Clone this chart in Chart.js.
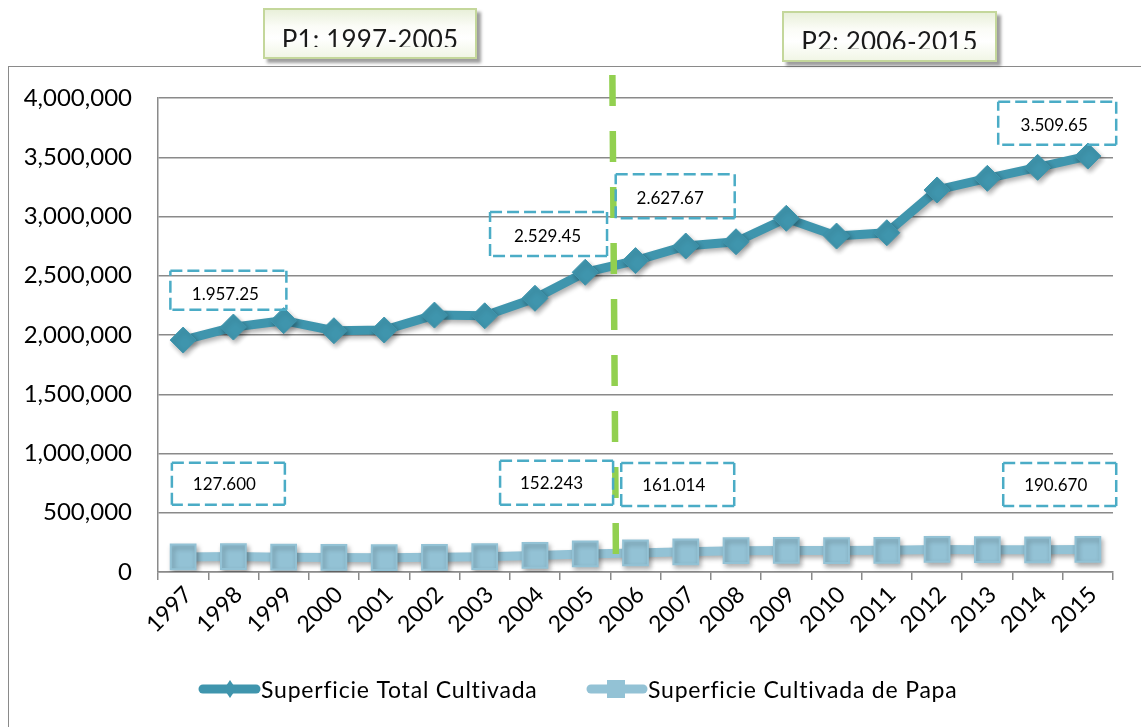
<!DOCTYPE html>
<html>
<head>
<meta charset="utf-8">
<script src="https://cdn.jsdelivr.net/npm/chart.js@4.4.1/dist/chart.umd.min.js"></script>
<style>
html,body{margin:0;padding:0;background:#fff;overflow:hidden;}
#wrap{position:relative;width:1141px;height:727px;}
#c{position:absolute;left:0;top:0;}
.frame{position:absolute;left:8px;top:66px;width:1140px;height:670px;border-left:1.5px solid #8a8a8a;border-top:1.5px solid #8a8a8a;}
.pbox{position:absolute;box-sizing:border-box;border:2px solid #c4d79b;
  background:linear-gradient(to bottom,#e9f0da 0%,#fbfcf7 35%,#ffffff 60%,#f1f6e6 100%);
  box-shadow:4px 4px 3px rgba(0,0,0,0.38);}
.ptxt{position:absolute;left:0;right:0;overflow:hidden;text-align:center;font-family:Lato,"Open Sans",sans-serif;font-size:26px;line-height:31px;color:#1a1a1a;white-space:nowrap;letter-spacing:0.2px;}
</style>
</head>
<body>
<div id="wrap">
  <div class="frame"></div>
  <canvas id="c" width="1141" height="727"></canvas>
  <div class="pbox" style="left:263px;top:8px;width:214px;height:51px;"><div class="ptxt" id="p1" style="top:14px;height:22.8px;"></div></div>
  <div class="pbox" style="left:782px;top:11px;width:215px;height:51px;"><div class="ptxt" id="p2" style="top:13px;height:22.8px;"></div></div>
</div>
<script>
// ---------- data ----------
const years = ['1997','1998','1999','2000','2001','2002','2003','2004','2005','2006','2007','2008','2009','2010','2011','2012','2013','2014','2015'];
const totalCultivada = [1957250, 2067000, 2121000, 2036000, 2042000, 2168000, 2162000, 2310000, 2529450, 2627670, 2751000, 2787000, 2985000, 2835000, 2863000, 3224000, 3322000, 3415000, 3509650];
const papaCultivada = [127600, 130000, 125000, 123000, 121000, 124000, 129000, 140000, 152243, 161014, 170000, 180000, 182000, 181000, 183000, 190000, 188000, 187000, 190670];
const yTickValues = [0, 500000, 1000000, 1500000, 2000000, 2500000, 3000000, 3500000, 4000000];
const seriesNames = ['Superficie Total Cultivada', 'Superficie Cultivada de Papa'];
const periodLabels = ['P1: 1997-2005', 'P2: 2006-2015'];
const totalCallouts = ['1.957.25', '2.529.45', '2.627.67', '3.509.65'];
const papaCallouts = ['127.600', '152.243', '161.014', '190.670'];

// ---------- styling / layout (not data) ----------
const C_TOTAL = '#3f95ad';
const C_PAPA = '#93c2d5';
const C_GRID = '#8a8a8a';
const FONT = 'Lato, "Open Sans", sans-serif';

document.getElementById('p1').textContent = periodLabels[0];
document.getElementById('p2').textContent = periodLabels[1];

// callout boxes anchored in data space (category index, value), size in px
const callouts = [
  {text: totalCallouts[0], xi: 0.90, yv: 2377000, w: 116, h: 39, dx: -3, dy: 4},
  {text: totalCallouts[1], xi: 7.27, yv: 2852000, w: 117, h: 44, dx: -1, dy: 2},
  {text: totalCallouts[2], xi: 9.79, yv: 3170000, w: 119, h: 44, dx: -5, dy: 2},
  {text: totalCallouts[3], xi: 17.39, yv: 3786000, w: 118, h: 43, dx: -3, dy: 2},
  {text: papaCallouts[0], xi: 0.90, yv: 744000, w: 113, h: 42, dx: -4, dy: 1},
  {text: papaCallouts[1], xi: 7.43, yv: 753000, w: 113, h: 44, dx: -5, dy: 1},
  {text: papaCallouts[2], xi: 9.84, yv: 738000, w: 113, h: 43, dx: -4, dy: 1},
  {text: papaCallouts[3], xi: 17.44, yv: 738000, w: 113, h: 43, dx: -4, dy: 1}
];
// period divider (category index / value ends)
const divider = {xiTop: 8.54, xiBottom: 8.61, yTop: 4194000, yBottom: 152000};

const shadowPlugin = {
  id: 'shadow',
  beforeDatasetDraw(chart) {
    const c = chart.ctx;
    c.save();
    c.shadowColor = 'rgba(0,0,0,0.32)';
    c.shadowBlur = 5;
    c.shadowOffsetX = 2;
    c.shadowOffsetY = 3;
  },
  afterDatasetDraw(chart) { chart.ctx.restore(); }
};

function dashedRect(c, x, y, w, h) {
  const sides = [[x, y, x + w, y], [x + w, y, x + w, y + h], [x + w, y + h, x, y + h], [x, y + h, x, y]];
  sides.forEach(s => { c.beginPath(); c.moveTo(s[0], s[1]); c.lineTo(s[2], s[3]); c.stroke(); });
}

const overlayPlugin = {
  id: 'overlay',
  afterDraw(chart) {
    const c = chart.ctx, xs = chart.scales.x, ys = chart.scales.y;
    // divider
    c.save();
    c.strokeStyle = '#92d050';
    c.lineWidth = 6.5;
    c.setLineDash([31, 25]);
    c.beginPath();
    c.moveTo(xs.getPixelForValue(divider.xiTop), ys.getPixelForValue(divider.yTop));
    c.lineTo(xs.getPixelForValue(divider.xiBottom), ys.getPixelForValue(divider.yBottom));
    c.stroke();
    c.restore();
    // callouts
    c.save();
    c.strokeStyle = '#4bacc6';
    c.lineWidth = 2.5;
    c.setLineDash([12, 5]);
    c.fillStyle = '#000';
    c.font = '17px ' + FONT;
    c.textAlign = 'center';
    c.textBaseline = 'middle';
    callouts.forEach(b => {
      const cx = xs.getPixelForValue(b.xi), cy = ys.getPixelForValue(b.yv);
      dashedRect(c, cx - b.w / 2, cy - b.h / 2, b.w, b.h);
      c.fillText(b.text, cx + b.dx, cy + b.dy);
    });
    c.restore();
    // legend
    const items = [
      {ds: 0, x0: 199, x1: 260, mx: 230, tx: 261},
      {ds: 1, x0: 587, x1: 647, mx: 616, tx: 648}
    ];
    const ly = 689;
    c.save();
    items.forEach(it => {
      const d = chart.data.datasets[it.ds];
      c.strokeStyle = d.borderColor;
      c.fillStyle = d.borderColor;
      c.lineWidth = 9;
      c.lineCap = 'round';
      c.beginPath(); c.moveTo(it.x0 + 4, ly); c.lineTo(it.x1 - 4, ly); c.stroke();
      c.beginPath();
      if (d.pointStyle === 'rectRot') {
        c.moveTo(it.mx - 6, ly); c.lineTo(it.mx, ly - 9); c.lineTo(it.mx + 6, ly); c.lineTo(it.mx, ly + 9);
      } else {
        c.rect(it.mx - 9, ly - 9, 18, 18);
      }
      c.closePath(); c.fill();
      c.fillStyle = '#000';
      c.font = '23px ' + FONT;
      c.letterSpacing = '0.8px';
      c.textAlign = 'left';
      c.textBaseline = 'alphabetic';
      c.fillText(d.label, it.tx, 698);
      c.letterSpacing = '0px';
    });
    c.restore();
  }
};

new Chart(document.getElementById('c'), {
  type: 'line',
  data: {
    labels: years,
    datasets: [
      {label: seriesNames[0], data: totalCultivada, borderColor: C_TOTAL, backgroundColor: C_TOTAL,
       borderWidth: 9, pointStyle: 'rectRot', pointRadius: 13, pointHoverRadius: 13,
       pointBackgroundColor: C_TOTAL, pointBorderColor: C_TOTAL, pointBorderWidth: 1, tension: 0, fill: false},
      {label: seriesNames[1], data: papaCultivada, borderColor: C_PAPA, backgroundColor: C_PAPA,
       borderWidth: 9, pointStyle: 'rect', pointRadius: 17.5, pointHoverRadius: 17.5,
       pointBackgroundColor: C_PAPA, pointBorderColor: C_PAPA, pointBorderWidth: 2, tension: 0, fill: false}
    ]
  },
  options: {
    responsive: false,
    animation: false,
    devicePixelRatio: 1,
    events: [],
    layout: {padding: {left: 0, right: 28, top: 98, bottom: 0}},
    plugins: {legend: {display: false}, tooltip: {enabled: false}},
    scales: {
      x: {
        offset: true,
        grid: {display: true, drawOnChartArea: false, drawTicks: true, tickLength: 8, color: C_GRID, lineWidth: 1.5, offset: true},
        border: {display: true, color: C_GRID, width: 1.5},
        ticks: {autoSkip: false, maxRotation: 45, minRotation: 45, color: '#000', font: {family: FONT, size: 23}, padding: 1, labelOffset: 5},
        afterFit(s) { s.height = 155; }
      },
      y: {
        min: 0, max: 4000000,
        afterBuildTicks(s) { s.ticks = yTickValues.map(v => ({value: v})); },
        ticks: {color: '#000', font: {family: FONT, size: 24}, padding: 26, callback: v => Number(v).toLocaleString('en-US')},
        grid: {color: C_GRID, lineWidth: 1.5, drawTicks: false},
        border: {display: true, color: C_GRID, width: 1.5},
        afterFit(s) { s.width = 158; }
      }
    }
  },
  plugins: [shadowPlugin, overlayPlugin]
});
</script>
</body>
</html>
